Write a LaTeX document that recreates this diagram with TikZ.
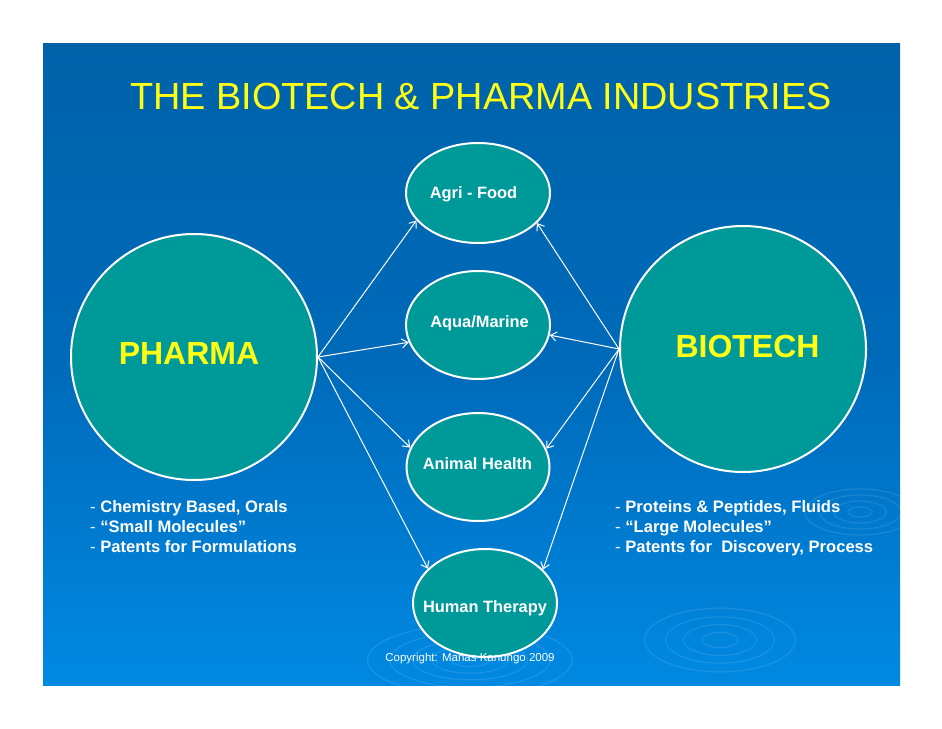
\documentclass[tikz,border=0pt]{standalone}
\usepackage{fontspec}
\setmainfont{Liberation Sans}
\usetikzlibrary{shapes.geometric,arrows.meta}
\definecolor{bgtop}{RGB}{0,99,170}
\definecolor{bgmid}{RGB}{0,106,186}
\definecolor{bgbot}{RGB}{0,137,226}
\definecolor{teal}{RGB}{0,153,153}
\definecolor{ylw}{RGB}{255,255,20}
\tikzset{
  bigcirc/.style={circle, draw=white, line width=2pt, fill=teal, minimum size=246pt, inner sep=0pt},
  bigtext/.style={text=ylw, inner sep=0pt, font=\fontsize{32}{36}\selectfont\bfseries},
  oval/.style={ellipse, draw=white, line width=2pt, fill=teal, minimum width=144pt, minimum height=108pt, inner sep=0pt},
  ovaltext/.style={text=white, inner sep=0pt, font=\fontsize{16.4}{19}\selectfont\bfseries},
  link/.style={white, line width=1pt, -{Straight Barb[length=6pt,width=9pt]}},
  bullets/.style={text=white, anchor=base west, align=left, inner sep=0pt,
    font=\fontsize{16.6}{20}\selectfont\bfseries},
  ripple/.style={white, opacity=0.10, line width=1.2pt}
}
\begin{document}
\begin{tikzpicture}[x=1pt,y=-1pt]
\useasboundingbox (0,0) rectangle (942,728);
\fill[white] (0,0) rectangle (942,728);
\shade[top color=bgtop, bottom color=bgbot, middle color=bgmid] (43,43) rectangle (900,685);
\begin{scope}
\clip (43,43) rectangle (900,685);
\foreach \r in {12,24,36,50,64} {\draw[ripple] (470,660) ellipse ({\r*1.6} and {\r*0.55});}
\foreach \r in {10,22,34,46} {\draw[ripple] (860,512) ellipse ({\r*1.2} and {\r*0.5});}
\foreach \r in {14,28,42,58} {\draw[ripple] (720,640) ellipse ({\r*1.3} and {\r*0.55});}
\end{scope}
\node[text=ylw, font=\fontsize{37.8}{40}\selectfont, anchor=base, inner sep=0pt] (title) at (481,109) {THE BIOTECH \& PHARMA INDUSTRIES};

\node[bigcirc] (pharma) at (194,357) {};
\node[bigcirc] (biotech) at (743,349) {};
\node[bigtext] (pharmalabel) at (189,353) {PHARMA};
\node[bigtext] (biotechlabel) at (747.5,346) {BIOTECH};

\node[oval, minimum height=100pt] (agri) at (478,193) {};
\node[oval] (aqua) at (478,325) {};
\node[oval, minimum width=143pt] (animal) at (478,467) {};
\node[oval] (human) at (485,603) {};
\node[ovaltext, anchor=base] (agrilabel) at (473.5,198.5) {Agri - Food};
\node[ovaltext, anchor=base] (aqualabel) at (479.5,327.5) {Aqua/Marine};
\node[ovaltext, anchor=base] (animallabel) at (477.5,469.5) {Animal Health};
\node[ovaltext, anchor=base] (humanlabel) at (485,612.5) {Human Therapy};

\draw[link] (pharma.east) -- (agri.204);
\draw[link] (pharma.east) -- (aqua.194);
\draw[link] (pharma.east) -- (animal.164);
\draw[link] (pharma.east) -- (human.149);
\draw[link] (biotech.west) -- (agri.333);
\draw[link] (biotech.west) -- (aqua.352);
\draw[link] (biotech.west) -- (animal.15);
\draw[link] (biotech.west) -- (human.30);

\node[bullets] (plist) at (90,552.5) {{\mdseries -} Chemistry Based, Orals\\{\mdseries -} “Small Molecules”\\{\mdseries -} Patents for Formulations};
\node[bullets] (blist) at (615,552.5) {{\mdseries -} Proteins \& Peptides, Fluids\\{\mdseries -} “Large Molecules”\\{\mdseries -} Patents for\ \ Discovery, Process};

\node[text=white, font=\fontsize{11.5}{13}\selectfont, inner sep=0pt] (copy) at (470,659) {Copyright: Manas Kanungo 2009};
\end{tikzpicture}
\end{document}
